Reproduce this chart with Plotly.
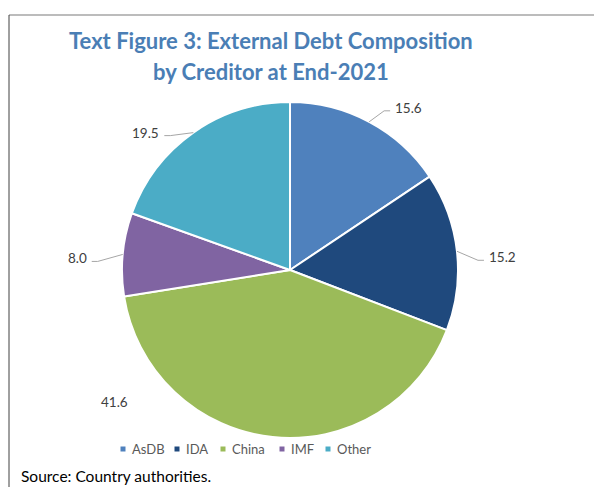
import math
import plotly.graph_objects as go

# ---------------- data ----------------
creditors = ["AsDB", "IDA", "China", "IMF", "Other"]
shares = [15.6, 15.2, 41.6, 8.0, 19.5]
value_labels = ["15.6", "15.2", "41.6", "8.0", "19.5"]
title_lines = ["Text Figure 3: External Debt Composition", "by Creditor at End-2021"]
source_note = "Source: Country authorities."

# ---------------- style ----------------
colors = ["#4F81BD", "#1F497D", "#9BBB59", "#8064A2", "#4BACC6"]
W, H = 594, 487
CX, CY, R = 290, 270, 168          # pie centre / radius in pixels
# leader-line elbow offsets (px) from the rim point; None = label without leader
label_elbow = [(15, -11), (21, 9), None, (-25, 7), (-23, 3)]
free_label = {2: (233, 1.31)}      # angle (deg, clockwise from top), distance in radii
label_font = dict(family="Lato", size=13.5, color="#404040")
legend_key_x = [123, 177, 223, 282, 328]   # px centre of each legend key
LEGEND_Y = 449
KEY = 5


def px(x):
    return x / W


def py(y):
    return 1 - y / H


fig = go.Figure()
fig.add_trace(go.Pie(
    labels=creditors, values=shares, sort=False, direction="clockwise", rotation=0,
    marker=dict(colors=colors, line=dict(color="white", width=2)),
    textinfo="none", showlegend=False, hoverinfo="label+value",
    domain=dict(x=[px(CX - R), px(CX + R)], y=[py(CY + R), py(CY - R)]),
))

annotations = []
shapes = []

# legend (keys + names), laid out like the reference
for k, (name, c) in enumerate(zip(creditors, colors)):
    kx = legend_key_x[k]
    shapes.append(dict(type="rect", xref="paper", yref="paper",
                       x0=px(kx - KEY / 2), x1=px(kx + KEY / 2),
                       y0=py(LEGEND_Y + KEY / 2), y1=py(LEGEND_Y - KEY / 2),
                       fillcolor=c, line=dict(width=0)))
    annotations.append(dict(x=px(kx + 7), y=py(LEGEND_Y), xref="paper", yref="paper",
                            text=name, showarrow=False, xanchor="left", yanchor="middle",
                            font=dict(family="Lato", size=13, color="#595959")))

total = sum(shares)
cum = 0.0
for i, v in enumerate(shares):
    mid = (cum + v / 2) / total * 360
    cum += v
    if i in free_label:
        ang, dist = free_label[i]
        a = math.radians(ang)
        tx = CX + dist * R * math.sin(a)
        ty = CY - dist * R * math.cos(a)
        annotations.append(dict(x=px(tx), y=py(ty), xref="paper", yref="paper",
                                text=value_labels[i], showarrow=False,
                                xanchor="center", yanchor="middle", font=label_font))
        continue
    a = math.radians(mid)
    rx = CX + R * math.sin(a)
    ry = CY - R * math.cos(a)
    dx, dy = label_elbow[i]
    ex, ey = rx + dx, ry + dy
    side = 1 if dx > 0 else -1
    tx, ty = ex + 6 * side, ey
    shapes.append(dict(type="path", xref="paper", yref="paper",
                       path=f"M{px(rx)},{py(ry)} L{px(ex)},{py(ey)} L{px(tx)},{py(ty)}",
                       line=dict(color="#A6A6A6", width=1)))
    annotations.append(dict(x=px(tx + 3 * side), y=py(ty - 3), xref="paper", yref="paper",
                            text=value_labels[i], showarrow=False,
                            xanchor="left" if side > 0 else "right", yanchor="middle",
                            font=label_font))

# title
for line, yc in zip(title_lines, [41, 71]):
    annotations.append(dict(x=px(271), y=py(yc), xref="paper", yref="paper", text=f"<b>{line}</b>",
                            showarrow=False, xanchor="center", yanchor="middle",
                            font=dict(family="Lato", size=22, color="#4A7EB5")))

# source
annotations.append(dict(x=px(19), y=py(476), xref="paper", yref="paper", text=source_note,
                        showarrow=False, xanchor="left", yanchor="middle",
                        font=dict(family="Lato", size=15.5, color="#000000")))

# frame lines
shapes.append(dict(type="line", xref="paper", yref="paper", x0=px(9), x1=1, y0=py(15), y1=py(15),
                   line=dict(color="#A6A6A6", width=1.5)))
shapes.append(dict(type="line", xref="paper", yref="paper", x0=px(9), x1=px(9), y0=py(15), y1=0,
                   line=dict(color="#404040", width=1)))

fig.update_layout(
    width=W, height=H, autosize=False,
    margin=dict(l=0, r=0, t=0, b=0),
    paper_bgcolor="white", plot_bgcolor="white",
    showlegend=False,
    annotations=annotations, shapes=shapes,
)

fig.write_html("out.html")
